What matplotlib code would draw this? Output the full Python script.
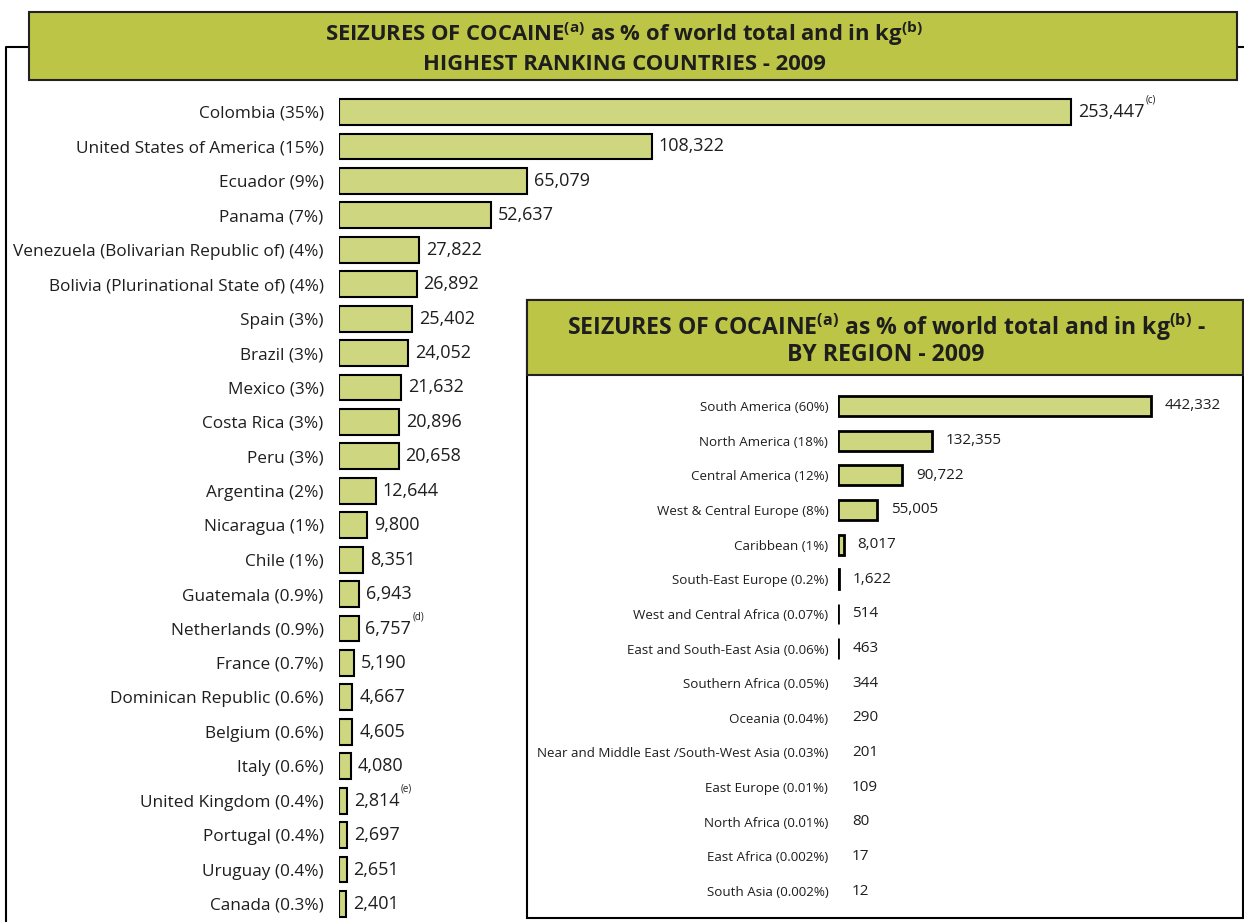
import matplotlib
matplotlib.use('Agg')
import matplotlib.pyplot as plt
from matplotlib.patches import Rectangle
from matplotlib.lines import Line2D

# ---------------- data ----------------
countries = ["Colombia", "United States of America", "Ecuador", "Panama",
             "Venezuela (Bolivarian Republic of)", "Bolivia (Plurinational State of)",
             "Spain", "Brazil", "Mexico", "Costa Rica", "Peru", "Argentina",
             "Nicaragua", "Chile", "Guatemala", "Netherlands", "France",
             "Dominican Republic", "Belgium", "Italy", "United Kingdom",
             "Portugal", "Uruguay", "Canada"]
country_pct = ["35%", "15%", "9%", "7%", "4%", "4%", "3%", "3%", "3%", "3%", "3%",
               "2%", "1%", "1%", "0.9%", "0.9%", "0.7%", "0.6%", "0.6%", "0.6%",
               "0.4%", "0.4%", "0.4%", "0.3%"]
country_kg = [253447, 108322, 65079, 52637, 27822, 26892, 25402, 24052, 21632,
              20896, 20658, 12644, 9800, 8351, 6943, 6757, 5190, 4667, 4605,
              4080, 2814, 2697, 2651, 2401]
country_notes = ["(c)", "", "", "", "", "", "", "", "", "", "", "", "", "", "",
                 "(d)", "", "", "", "", "(e)", "", "", ""]

regions = ["South America", "North America", "Central America",
           "West & Central Europe", "Caribbean", "South-East Europe",
           "West and Central Africa", "East and South-East Asia",
           "Southern Africa", "Oceania", "Near and Middle East /South-West Asia",
           "East Europe", "North Africa", "East Africa", "South Asia"]
region_pct = ["60%", "18%", "12%", "8%", "1%", "0.2%", "0.07%", "0.06%", "0.05%",
              "0.04%", "0.03%", "0.01%", "0.01%", "0.002%", "0.002%"]
region_kg = [442332, 132355, 90722, 55005, 8017, 1622, 514, 463, 344, 290, 201,
             109, 80, 17, 12]

# ---------------- style ----------------
W, H = 1244, 922
TITLE_GREEN = "#BCC545"
BAR_GREEN = "#CED780"
TXT = "#1e1e1e"
FONT = ["Open Sans", "DejaVu Sans"]
plt.rcParams['font.family'] = FONT


def fx(x):
    return x / W


def fy(y):
    return 1 - y / H


fig = plt.figure(figsize=(W / 100, H / 100), dpi=100)

# ---------------- outer frame & title ----------------
fig.add_artist(Line2D([fx(6), fx(6), fx(29)], [fy(922), fy(47), fy(47)],
                      transform=fig.transFigure, color="black", lw=1.5, zorder=1))
fig.add_artist(Line2D([fx(1237), fx(1244)], [fy(47), fy(47)],
                      transform=fig.transFigure, color="black", lw=1.5, zorder=1))
fig.add_artist(Rectangle((fx(29), fy(80)), fx(1237) - fx(29), fy(12) - fy(80),
                         transform=fig.transFigure, facecolor=TITLE_GREEN,
                         edgecolor="#222222", lw=1.5, zorder=1))
fig.text(fx(624), fy(34), r"SEIZURES OF COCAINE$^{\mathregular{(a)}}$ as % of world total and in kg$^{\mathregular{(b)}}$",
         ha="center", va="center", fontsize=15.8, fontweight="bold", color=TXT, zorder=2)
fig.text(fx(624), fy(64), "HIGHEST RANKING COUNTRIES - 2009",
         ha="center", va="center", fontsize=15.8, fontweight="bold", color=TXT, zorder=2)

# ---------------- main chart ----------------
x0, x1 = 339, 1244
scale = (1071 - 339) / 253447.0
top, bot = 95, 922
row0, drow = 112, (904 - 112) / 23.0
ax = fig.add_axes([fx(x0), fy(bot), fx(x1) - fx(x0), fy(top) - fy(bot)], zorder=0)
ax.set_xlim(0, (x1 - x0) / scale)
ax.set_ylim((bot - row0) / drow, (top - row0) / drow)
ypos = list(range(len(countries)))
ax.barh(ypos, country_kg, height=0.75, color=BAR_GREEN, edgecolor="black", linewidth=1.5)
ax.set_yticks(ypos)
ax.set_yticklabels([f"{c} ({p})" for c, p in zip(countries, country_pct)], fontsize=12.4,
                   color=TXT)
ax.tick_params(axis="y", length=0, pad=11)
ax.set_xticks([])
for s in ax.spines.values():
    s.set_visible(False)
ax.patch.set_alpha(0)
for y, v, n in zip(ypos, country_kg, country_notes):
    t = ax.annotate(f"{v:,}", (v, y), xytext=(5, 0), textcoords="offset points",
                    ha="left", va="center", fontsize=13, color=TXT)
    if n:
        ax.annotate(n, xy=(1, 1), xycoords=t, xytext=(1, 2), textcoords="offset points",
                    ha="left", va="center", fontsize=7, color=TXT)

# ---------------- inset ----------------
bx0, bx1, by0, by1, bt = 527, 1243, 300, 918, 375
fig.add_artist(Rectangle((fx(bx0), fy(by1)), fx(bx1) - fx(bx0), fy(by0) - fy(by1),
                         transform=fig.transFigure, facecolor="white",
                         edgecolor="black", lw=1.5, zorder=2))
fig.add_artist(Rectangle((fx(bx0), fy(bt)), fx(bx1) - fx(bx0), fy(by0) - fy(bt),
                         transform=fig.transFigure, facecolor=TITLE_GREEN,
                         edgecolor="#222222", lw=1.5, zorder=2))
fig.text(fx(886), fy(327), r"SEIZURES OF COCAINE$^{\mathregular{(a)}}$ as % of world total and in kg$^{\mathregular{(b)}}$ -",
         ha="center", va="center", fontsize=16.6, fontweight="bold", color=TXT, zorder=3)
fig.text(fx(886), fy(355), "BY REGION - 2009",
         ha="center", va="center", fontsize=16.6, fontweight="bold", color=TXT, zorder=3)

ix0, ix1 = 838, 1240
iscale = (1151 - 838) / 442332.0
itop, ibot = 380, 915
irow0, idrow = 406, (891 - 406) / 14.0
ax2 = fig.add_axes([fx(ix0), fy(ibot), fx(ix1) - fx(ix0), fy(itop) - fy(ibot)], zorder=4)
ax2.set_xlim(0, (ix1 - ix0) / iscale)
ax2.set_ylim((ibot - irow0) / idrow, (itop - irow0) / idrow)
ypos2 = list(range(len(regions)))
lws = [2.0 if v >= 400 else 0 for v in region_kg]
ax2.barh(ypos2, region_kg, height=0.58, color=BAR_GREEN, edgecolor="black", linewidth=lws)
ax2.set_yticks(ypos2)
ax2.set_yticklabels([f"{r} ({p})" for r, p in zip(regions, region_pct)], fontsize=9.6,
                    color=TXT)
ax2.tick_params(axis="y", length=0, pad=7)
ax2.set_xticks([])
for s in ax2.spines.values():
    s.set_visible(False)
ax2.patch.set_alpha(0)
for y, v in zip(ypos2, region_kg):
    ax2.annotate(f"{v:,}", (v, y), xytext=(10, 0), textcoords="offset points",
                 ha="left", va="center", fontsize=11, color=TXT)

fig.savefig("out.png", dpi=100)
